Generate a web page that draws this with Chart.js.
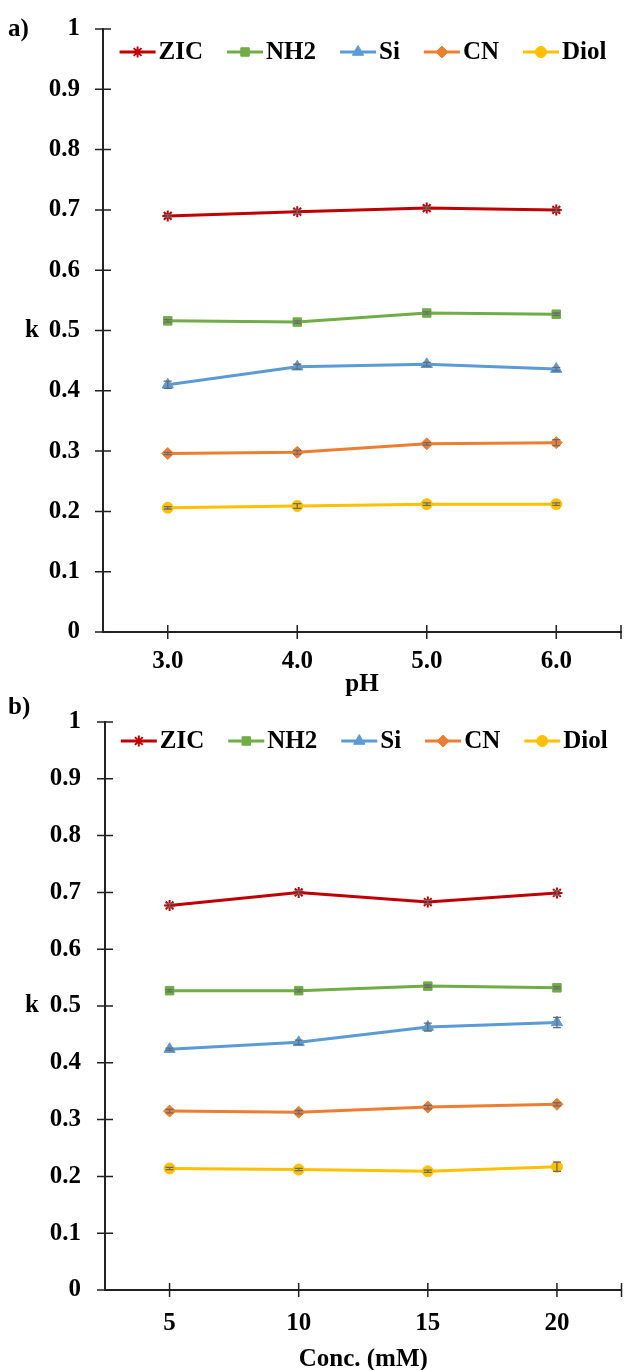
<!DOCTYPE html>
<html>
<head>
<meta charset="utf-8">
<script src="https://cdn.jsdelivr.net/npm/chart.js@4"></script>
<style>
  body { margin: 0; background: #fff; }
  canvas { display: block; }
</style>
</head>
<body>
<canvas id="chartA" width="629" height="697"></canvas>
<canvas id="chartB" width="629" height="673"></canvas>
<script>
// ---- data ----
const seriesNames = ['ZIC', 'NH2', 'Si', 'CN', 'Diol'];

const phLabels = ['3.0', '4.0', '5.0', '6.0'];
const zicPH  = [0.690, 0.697, 0.703, 0.700];
const nh2PH  = [0.516, 0.514, 0.529, 0.527];
const siPH   = [0.410, 0.440, 0.444, 0.436];
const cnPH   = [0.296, 0.298, 0.312, 0.314];
const diolPH = [0.206, 0.209, 0.212, 0.212];
const errPH = [
  [0.002, 0.003, 0.002, 0.003],
  [0.002, 0.002, 0.002, 0.002],
  [0.006, 0.004, 0.003, 0.003],
  [0.002, 0.003, 0.002, 0.005],
  [0.002, 0.004, 0.002, 0.002]
];

const concLabels = ['5', '10', '15', '20'];
const zicConc  = [0.677, 0.700, 0.683, 0.699];
const nh2Conc  = [0.527, 0.527, 0.535, 0.532];
const siConc   = [0.424, 0.436, 0.463, 0.471];
const cnConc   = [0.315, 0.313, 0.322, 0.327];
const diolConc = [0.214, 0.212, 0.209, 0.217];
const errConc = [
  [0.003, 0.003, 0.003, 0.004],
  [0.002, 0.002, 0.002, 0.002],
  [0.002, 0.004, 0.007, 0.009],
  [0.003, 0.003, 0.003, 0.003],
  [0.002, 0.002, 0.002, 0.008]
];

const yTicks = { min: 0, max: 1, step: 0.1 };

// ---- styling ----
const colors = ['#C00000', '#70AD47', '#5B9BD5', '#ED7D31', '#FFC000'];
const markers = ['star', 'rect', 'triangle', 'rectRot', 'circle'];
const radii = [5.5, 6, 6.5, 6, 5.5];
const markerBorder = [2, 1, 1, 1, 1];
const FONT = "'Liberation Serif', 'Times New Roman', serif";

Chart.defaults.font.family = FONT;
Chart.defaults.font.weight = 'bold';
Chart.defaults.font.size = 25;
Chart.defaults.color = '#000';

function makeDatasets(values, errs) {
  return values.map((v, i) => ({
    label: seriesNames[i],
    data: v,
    errorBars: errs[i],
    borderColor: colors[i],
    backgroundColor: colors[i],
    borderWidth: 3,
    pointStyle: markers[i],
    pointRadius: radii[i],
    pointBorderWidth: markerBorder[i],
    pointBackgroundColor: colors[i],
    pointBorderColor: colors[i],
    tension: 0
  }));
}

// tick marks crossing the axes, error bars, legend, side labels
const extras = {
  id: 'extras',
  afterDatasetsDraw(chart) {
    const { ctx, scales: { y } } = chart;
    ctx.save();
    ctx.strokeStyle = '#6b6b6b';
    ctx.lineWidth = 1.3;
    chart.data.datasets.forEach((ds, di) => {
      const meta = chart.getDatasetMeta(di);
      meta.data.forEach((pt, i) => {
        const e = ds.errorBars[i];
        const top = y.getPixelForValue(ds.data[i] + e);
        const bot = y.getPixelForValue(ds.data[i] - e);
        ctx.beginPath();
        ctx.moveTo(pt.x, top); ctx.lineTo(pt.x, bot);
        ctx.moveTo(pt.x - 4, top); ctx.lineTo(pt.x + 4, top);
        ctx.moveTo(pt.x - 4, bot); ctx.lineTo(pt.x + 4, bot);
        ctx.stroke();
      });
    });
    ctx.restore();
  },
  afterDraw(chart, args, opts) {
    const { ctx, chartArea: a, scales: { x, y } } = chart;
    ctx.save();
    ctx.strokeStyle = '#222';
    ctx.lineWidth = 1.5;
    ctx.beginPath();
    y.ticks.forEach(t => {
      const py = y.getPixelForValue(t.value);
      ctx.moveTo(a.left - 8, py); ctx.lineTo(a.left + 8, py);
    });
    x.ticks.forEach((t, i) => {
      const px = x.getPixelForTick(i);
      ctx.moveTo(px, a.bottom - 7); ctx.lineTo(px, a.bottom + 7);
    });
    ctx.moveTo(a.right, a.bottom - 7); ctx.lineTo(a.right, a.bottom + 7);
    ctx.stroke();

    ctx.fillStyle = '#000';
    ctx.font = 'bold 25px ' + FONT;
    ctx.textBaseline = 'middle';
    ctx.textAlign = 'left';
    ctx.fillText(opts.panel, 8, opts.panelY);
    ctx.textAlign = 'center';
    ctx.fillText('k', 32, (a.top + a.bottom) / 2);

    // legend: line + marker sample, then label
    const lineLen = 36, gapText = 3, gapItem = 24;
    ctx.textAlign = 'left';
    const widths = seriesNames.map(s => ctx.measureText(s).width);
    const total = widths.reduce((s, w) => s + w, 0) + seriesNames.length * (lineLen + gapText) + (seriesNames.length - 1) * gapItem;
    let lx = (a.left + a.right) / 2 - total / 2 + 1;
    const ly = a.top + opts.legendDy;
    seriesNames.forEach((name, i) => {
      ctx.strokeStyle = colors[i];
      ctx.lineWidth = 3;
      ctx.beginPath(); ctx.moveTo(lx, ly); ctx.lineTo(lx + lineLen, ly); ctx.stroke();
      ctx.fillStyle = colors[i];
      ctx.lineWidth = markerBorder[i];
      Chart.helpers.drawPoint(ctx, { pointStyle: markers[i], radius: radii[i], borderWidth: markerBorder[i], rotation: 0 }, lx + lineLen / 2, ly);
      ctx.fillStyle = '#000';
      ctx.fillText(name, lx + lineLen + gapText, ly + 1);
      lx += lineLen + gapText + widths[i] + gapItem;
    });
    ctx.restore();
  }
};

// invisible tick marks only space the labels away from the axes
function spacer(len) {
  return { display: true, drawOnChartArea: false, drawTicks: true, tickLength: len, color: 'rgba(0,0,0,0)' };
}

function makeChart(id, labels, values, errs, o) {
  return new Chart(document.getElementById(id), {
    type: 'line',
    data: { labels, datasets: makeDatasets(values, errs) },
    plugins: [extras],
    options: {
      responsive: false,
      animation: false,
      layout: { padding: { top: o.top, right: o.right, left: 0, bottom: 0 } },
      plugins: {
        tooltip: { enabled: false },
        legend: { display: false },
        extras: { panel: o.panel, panelY: o.panelY, legendDy: o.legendDy }
      },
      scales: {
        x: {
          type: 'category',
          offset: true,
          grid: spacer(o.xPad),
          border: { display: true, color: '#222', width: 2 },
          ticks: { padding: 0, font: { size: 25, weight: 'bold' } },
          title: {
            display: true, text: o.xTitle,
            font: { size: 25, weight: 'bold', lineHeight: 1 },
            padding: { top: 0, bottom: o.titlePad }
          },
          afterFit(s) { s.height = o.xHeight; }
        },
        y: {
          min: yTicks.min,
          max: yTicks.max,
          grid: spacer(o.yPad),
          border: { display: true, color: '#222', width: 2 },
          ticks: {
            stepSize: yTicks.step,
            padding: 0,
            font: { size: 25, weight: 'bold' },
            callback: v => String(Math.round(v * 10) / 10)
          },
          afterFit(s) { s.width = o.yWidth; }
        }
      }
    }
  });
}

makeChart('chartA', phLabels, [zicPH, nh2PH, siPH, cnPH, diolPH], errPH,
  { top: 29, right: 8, xHeight: 65, xPad: 15, yPad: 23, yWidth: 103, xTitle: 'pH', titlePad: 0,
    panel: 'a)', panelY: 30, legendDy: 23 });
makeChart('chartB', concLabels, [zicConc, nh2Conc, siConc, cnConc, diolConc], errConc,
  { top: 25, right: 4, xHeight: 80, xPad: 19, yPad: 24, yWidth: 105, xTitle: 'Conc. (mM)', titlePad: -2,
    panel: 'b)', panelY: 11, legendDy: 19 });
</script>
</body>
</html>
